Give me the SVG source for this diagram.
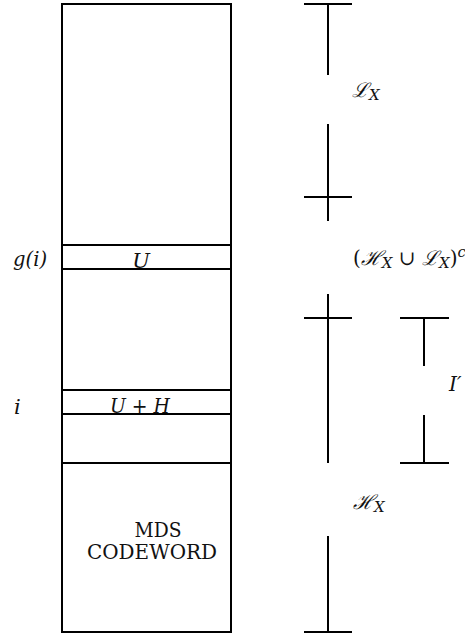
<svg xmlns="http://www.w3.org/2000/svg" width="465" height="636" viewBox="0 0 465 636">
<style>
.l{stroke:#000;stroke-width:2;fill:none}
.t{font-family:"DejaVu Serif","Liberation Serif",serif;fill:#111}
.m{font-family:"DejaVu Serif","Liberation Serif",serif;font-style:italic;fill:#111}
.s{font-size:15px}
</style>
<rect width="465" height="636" fill="#fff"/>
<g id="column">
<rect class="l" x="62" y="4" width="169" height="628"/>
<line class="l" x1="62" y1="245" x2="231" y2="245"/>
<line class="l" x1="62" y1="269" x2="231" y2="269"/>
<line class="l" x1="62" y1="390" x2="231" y2="390"/>
<line class="l" x1="62" y1="414" x2="231" y2="414"/>
<line class="l" x1="62" y1="463" x2="231" y2="463"/>
</g>
<g id="labels-left">
<text class="m" x="13" y="266" font-size="21" textLength="34" lengthAdjust="spacingAndGlyphs">g(i)</text>
<text class="m" x="14" y="414" font-size="21">i</text>
<text class="m" x="141" y="268" font-size="21" text-anchor="middle">U</text>
<text class="m" x="110" y="413" font-size="21" textLength="60" lengthAdjust="spacingAndGlyphs">U + H</text>
<text class="t" x="158" y="537" font-size="20" text-anchor="middle" textLength="47" lengthAdjust="spacingAndGlyphs">MDS</text>
<text class="t" x="152" y="559" font-size="20" text-anchor="middle" textLength="130" lengthAdjust="spacingAndGlyphs">CODEWORD</text>
</g>
<g id="brackets">
<line class="l" x1="304" y1="4" x2="352" y2="4"/>
<line class="l" x1="328" y1="4" x2="328" y2="75"/>
<line class="l" x1="328" y1="124" x2="328" y2="221"/>
<line class="l" x1="304" y1="197" x2="352" y2="197"/>
<line class="l" x1="328" y1="294" x2="328" y2="463"/>
<line class="l" x1="304" y1="318" x2="352" y2="318"/>
<line class="l" x1="328" y1="536" x2="328" y2="632"/>
<line class="l" x1="304" y1="632" x2="352" y2="632"/>
<line class="l" x1="400" y1="318" x2="449" y2="318"/>
<line class="l" x1="424" y1="318" x2="424" y2="366"/>
<line class="l" x1="424" y1="415" x2="424" y2="463"/>
<line class="l" x1="400" y1="463" x2="449" y2="463"/>
</g>
<g id="labels-right">
<text class="m" x="352" y="97" font-size="20">ℒ<tspan class="s" dy="3">X</tspan></text>
<text class="m" x="353" y="265" font-size="20"><tspan font-style="normal">(</tspan>ℋ<tspan class="s" dy="3">X</tspan><tspan dy="-3" font-style="normal"> ∪ </tspan>ℒ<tspan class="s" dy="3">X</tspan><tspan dy="-3" font-style="normal">)</tspan><tspan class="s" dy="-8">c</tspan></text>
<text class="m" x="449" y="391" font-size="20">I′</text>
<text class="m" x="353" y="509" font-size="20">ℋ<tspan class="s" dy="3">X</tspan></text>
</g>
</svg>
